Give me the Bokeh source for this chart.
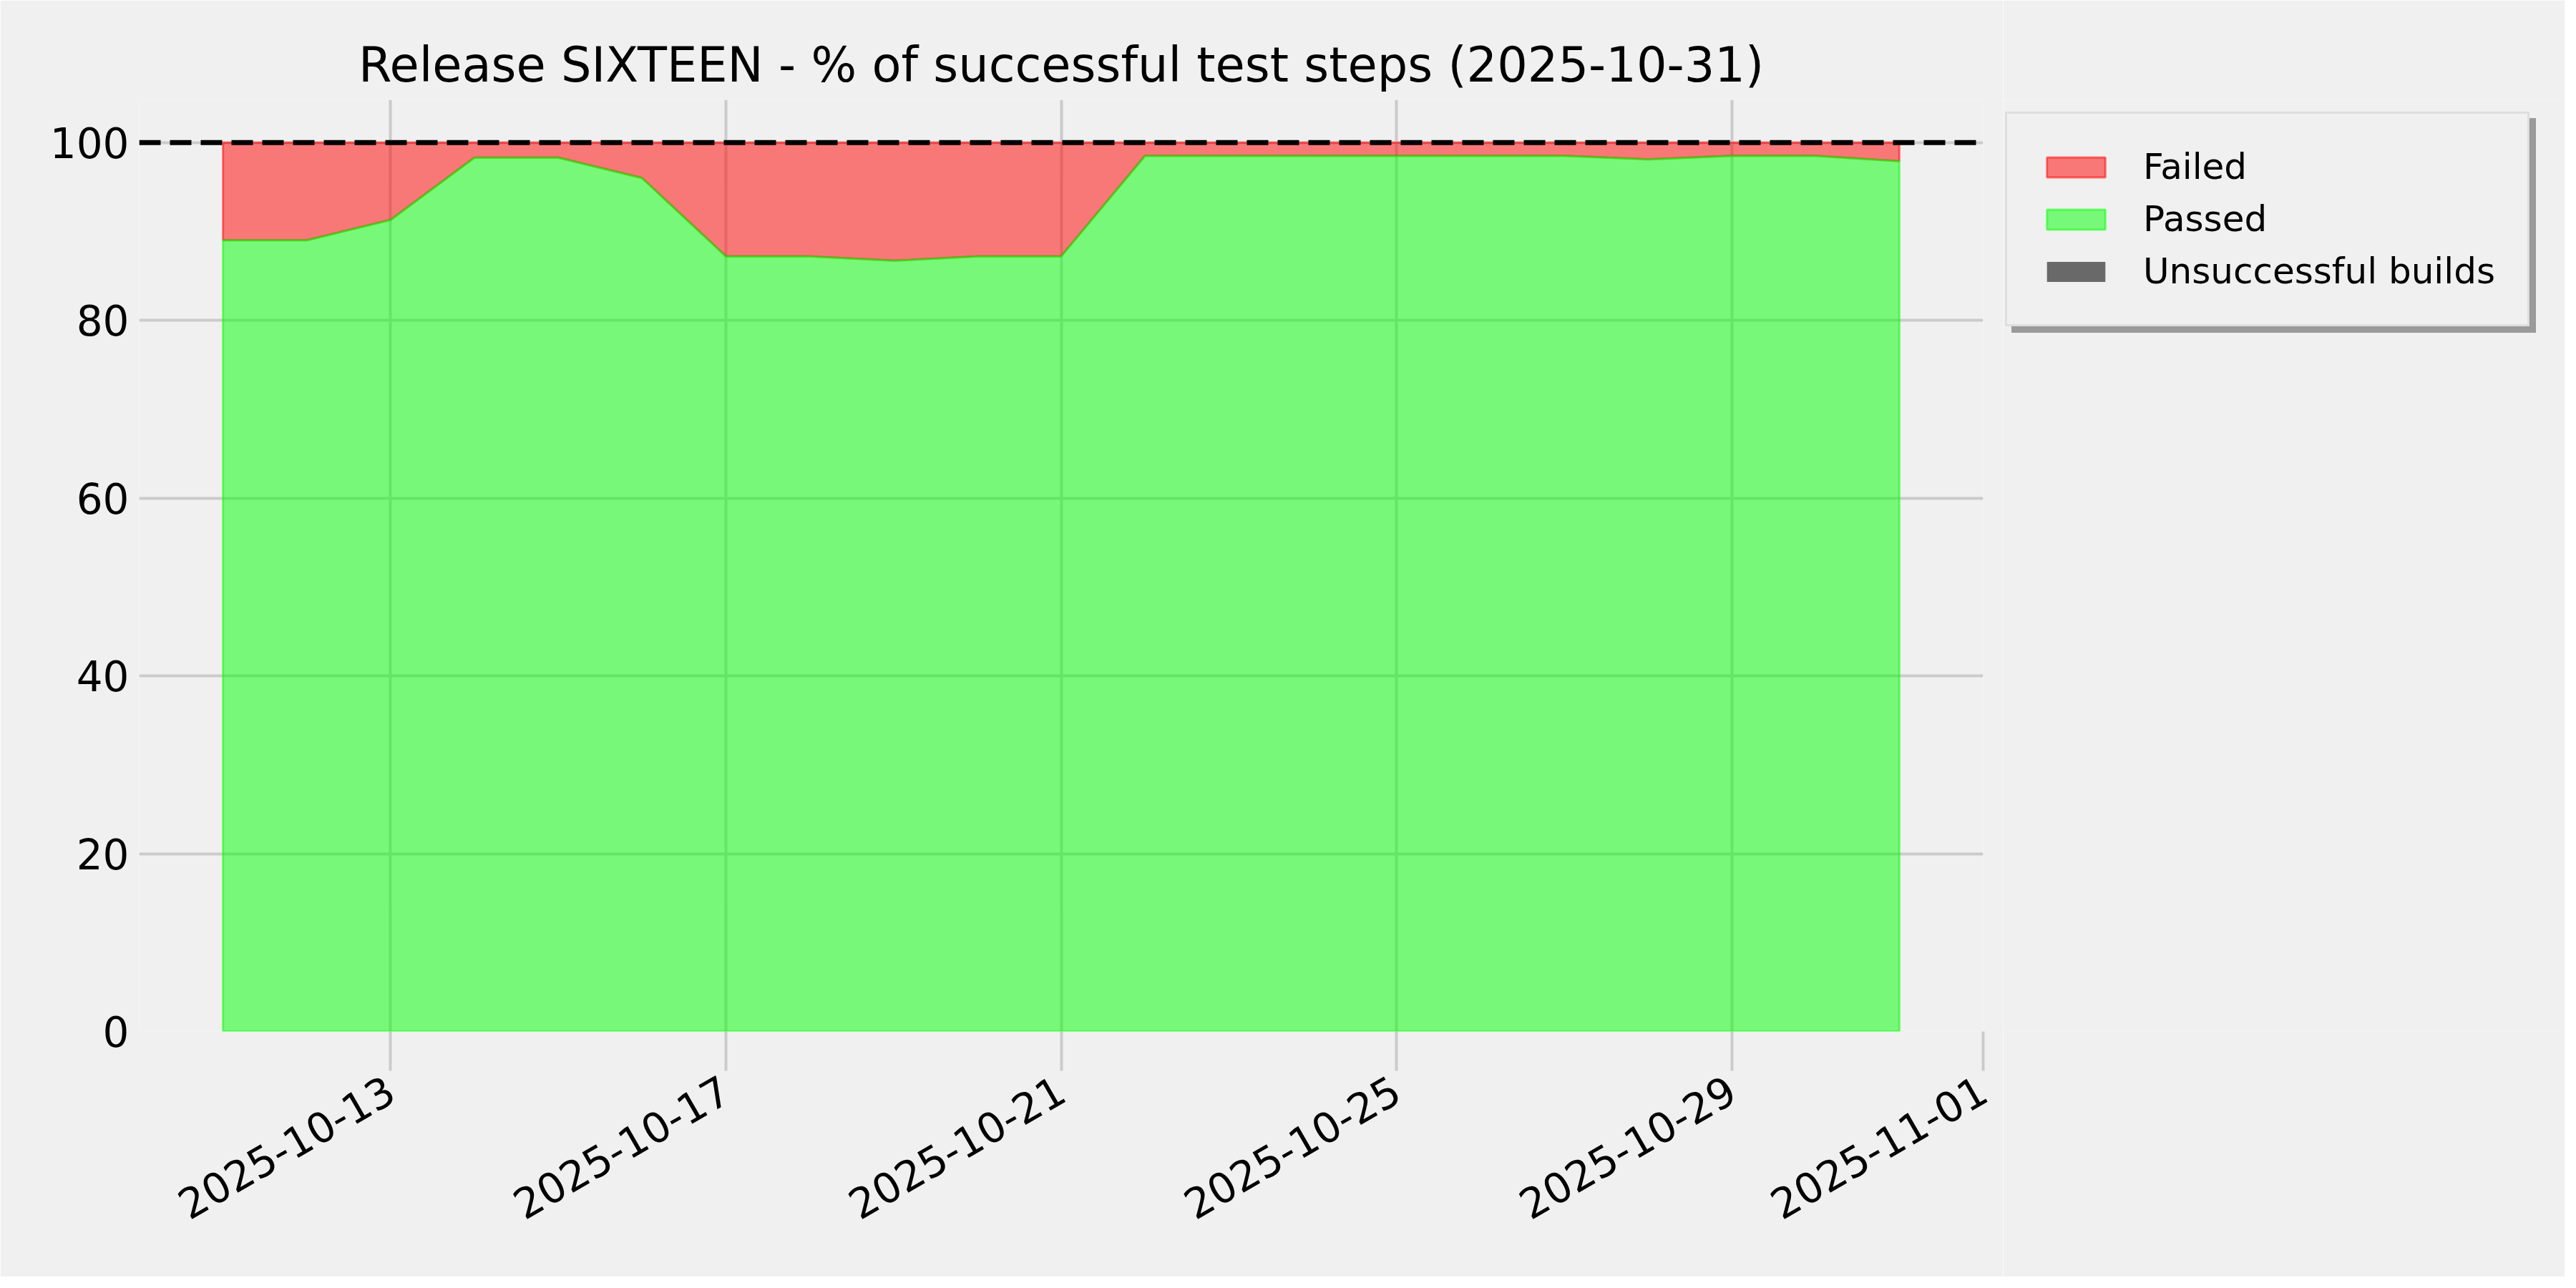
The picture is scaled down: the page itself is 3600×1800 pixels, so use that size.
import math
import numpy as np
import pandas as pd
from bokeh.plotting import figure
from bokeh.layouts import row
from bokeh.models import (Range1d, FixedTicker, DatetimeTickFormatter, Span,
                          Legend, LegendItem)
from bokeh.embed import file_html
from bokeh.resources import INLINE

# ---------------- data ----------------
DATES = ["2025-10-11", "2025-10-12", "2025-10-13", "2025-10-14", "2025-10-15",
         "2025-10-16", "2025-10-17", "2025-10-18", "2025-10-19", "2025-10-20",
         "2025-10-21", "2025-10-22", "2025-10-23", "2025-10-24", "2025-10-25",
         "2025-10-26", "2025-10-27", "2025-10-28", "2025-10-29", "2025-10-30",
         "2025-10-31"]
PASSED = [89.0, 89.0, 91.3, 98.3, 98.3, 96.0, 87.2, 87.2, 86.7, 87.2,
          87.2, 98.5, 98.5, 98.5, 98.5, 98.5, 98.5, 98.1, 98.5, 98.5, 97.9]
FAILED = [11.0, 11.0, 8.7, 1.7, 1.7, 4.0, 12.8, 12.8, 13.3, 12.8,
          12.8, 1.5, 1.5, 1.5, 1.5, 1.5, 1.5, 1.9, 1.5, 1.5, 2.1]
UNSUCCESSFUL = [0.0, 0.0, 0.0, 0.0, 0.0, 0.0, 0.0, 0.0, 0.0, 0.0,
                0.0, 0.0, 0.0, 0.0, 0.0, 0.0, 0.0, 0.0, 0.0, 0.0, 0.0]
SERIES_LABELS = ["Failed", "Passed", "Unsuccessful builds"]
X_TICK_DATES = ["2025-10-13", "2025-10-17", "2025-10-21", "2025-10-25",
                "2025-10-29", "2025-11-01"]
Y_TICKS = [0, 20, 40, 60, 80, 100]
TARGET = 100
TITLE = "Release SIXTEEN - % of successful test steps (2025-10-31)"

# ---------------- helpers ----------------
def to_ms(vals):
    return pd.to_datetime(vals).values.astype("datetime64[ms]").astype("int64").astype(float)

x = to_ms(DATES)
passed = np.array(PASSED)
failed = np.array(FAILED)
unsucc = np.array(UNSUCCESSFUL)

def band(lower, upper):
    xs = np.concatenate([x, x[::-1]])
    ys = np.concatenate([upper, lower[::-1]])
    return xs, ys

DAY = 86400000.0
FONT = "DejaVu Sans"
BG = "#f0f0f0"
GRID = "#cbcbcb"
COL_FAIL = "red"
COL_PASS = "lime"
COL_UNS = "#696969"

TOTAL_W, TOTAL_H = 3584, 1784
BORDER_LEFT, FRAME_W, BORDER_RIGHT = 194, 2577, 28
MAIN_W = BORDER_LEFT + FRAME_W + BORDER_RIGHT
BORDER_TOP, BORDER_BOTTOM = 139, 343
FRAME_H = TOTAL_H - BORDER_TOP - BORDER_BOTTOM

p = figure(width=MAIN_W, height=TOTAL_H, x_axis_type="datetime",
           output_backend="svg", toolbar_location=None,
           x_range=Range1d(x[0] - DAY, x[-1] + DAY),
           y_range=Range1d(0, 104.8),
           min_border_left=BORDER_LEFT, min_border_right=BORDER_RIGHT,
           min_border_top=BORDER_TOP, min_border_bottom=BORDER_BOTTOM)
p.background_fill_color = BG
p.border_fill_color = BG
p.outline_line_color = None

# title
p.title.text = TITLE
p.title.text_font = FONT
p.title.text_font_size = "67px"
p.title.text_font_style = "normal"
p.title.text_color = "black"
p.title.align = "center"
p.title.standoff = 19

# grid
for g in (p.xgrid, p.ygrid):
    g.grid_line_color = GRID
    g.grid_line_width = 4
p.xgrid.ticker = FixedTicker(ticks=list(to_ms(X_TICK_DATES)))
p.ygrid.ticker = FixedTicker(ticks=Y_TICKS)

# areas (stacked: passed at bottom, failed above, unsuccessful on top)
rx, ry = band(passed, passed + failed)
gx, gy = band(np.zeros_like(passed), passed)
ux, uy = band(passed + failed, passed + failed + unsucc)
STYLE_FAIL = dict(fill_color=COL_FAIL, fill_alpha=0.5,
                  line_color=COL_FAIL, line_alpha=0.5, line_width=3)
STYLE_PASS = dict(fill_color=COL_PASS, fill_alpha=0.5,
                  line_color=COL_PASS, line_alpha=0.5, line_width=3)
STYLE_UNS = dict(fill_color=COL_UNS, fill_alpha=1.0, line_color=None)
p.patch(rx, ry, **STYLE_FAIL)
p.patch(gx, gy, **STYLE_PASS)
p.patch(ux, uy, **STYLE_UNS)

# target line
p.add_layout(Span(location=TARGET, dimension="width", line_color="black",
                  line_width=7, line_dash="30 13"))

# axes
xa = p.xaxis[0]
xa.ticker = FixedTicker(ticks=list(to_ms(X_TICK_DATES)))
fmt = "%Y-%m-%d"
xa.formatter = DatetimeTickFormatter(days=fmt, months=fmt, years=fmt,
                                     hours=fmt, hourmin=fmt, minutes=fmt)
xa.axis_line_color = None
xa.major_tick_line_color = GRID
xa.major_tick_line_width = 4
xa.major_tick_out = 55
xa.major_tick_in = 0
xa.minor_tick_line_color = None
xa.major_label_orientation = math.pi / 6
xa.major_label_standoff = 22
xa.major_label_text_font = FONT
xa.major_label_text_font_size = "58px"
xa.major_label_text_color = "black"

ya = p.yaxis[0]
ya.ticker = FixedTicker(ticks=Y_TICKS)
ya.axis_line_color = None
ya.major_tick_line_color = None
ya.major_tick_out = 0
ya.major_tick_in = 0
ya.minor_tick_line_color = None
ya.major_label_standoff = 14
ya.major_label_text_font = FONT
ya.major_label_text_font_size = "58px"
ya.major_label_text_color = "black"

# ---------------- legend panel (separate figure to the right) ----------------
q = figure(width=TOTAL_W - MAIN_W, height=TOTAL_H, output_backend="svg",
           toolbar_location=None, x_range=Range1d(0, 1), y_range=Range1d(0, 1),
           x_axis_location=None, y_axis_location=None,
           min_border_left=0, min_border_right=0,
           min_border_bottom=BORDER_BOTTOM, min_border_top=BORDER_TOP)
q.background_fill_color = BG
q.border_fill_color = BG
q.outline_line_color = None
q.xgrid.visible = False
q.ygrid.visible = False

# legend key renderers: same series, outside this panel's visible range
k_fail = q.patch(rx, ry, **STYLE_FAIL)
k_pass = q.patch(gx, gy, **STYLE_PASS)
k_uns = q.patch(ux, uy, **STYLE_UNS)

def make_legend(loc, labels, bg, border, label_width=20):
    lg = Legend(items=[LegendItem(label=labels[0], renderers=[k_fail]),
                       LegendItem(label=labels[1], renderers=[k_pass]),
                       LegendItem(label=labels[2], renderers=[k_uns])],
                location=loc)
    lg.margin = 0
    lg.padding = 45
    lg.spacing = 15
    lg.glyph_width = 102
    lg.glyph_height = 35
    lg.label_height = 58
    lg.label_width = label_width
    lg.label_standoff = 43
    lg.label_text_font = FONT
    lg.label_text_font_size = "50px"
    lg.label_text_color = "black"
    lg.background_fill_color = bg
    lg.background_fill_alpha = 1.0
    lg.border_line_color = border
    lg.border_line_width = 3
    return lg

# legend box: left edge 3 px into the panel, bottom edge 985 px above frame bottom
LEG_X, LEG_Y = 3, FRAME_H - 317
# drop shadow: same box size, blank labels
q.add_layout(make_legend((LEG_X + 9, LEG_Y - 9), [" ", " ", " "],
                         "#9a9a9a", "#9a9a9a", label_width=492))
q.add_layout(make_legend((LEG_X, LEG_Y), SERIES_LABELS, BG, "#cccccc"))

layout = row(p, q)
open("out.html", "w").write(file_html(layout, INLINE))
